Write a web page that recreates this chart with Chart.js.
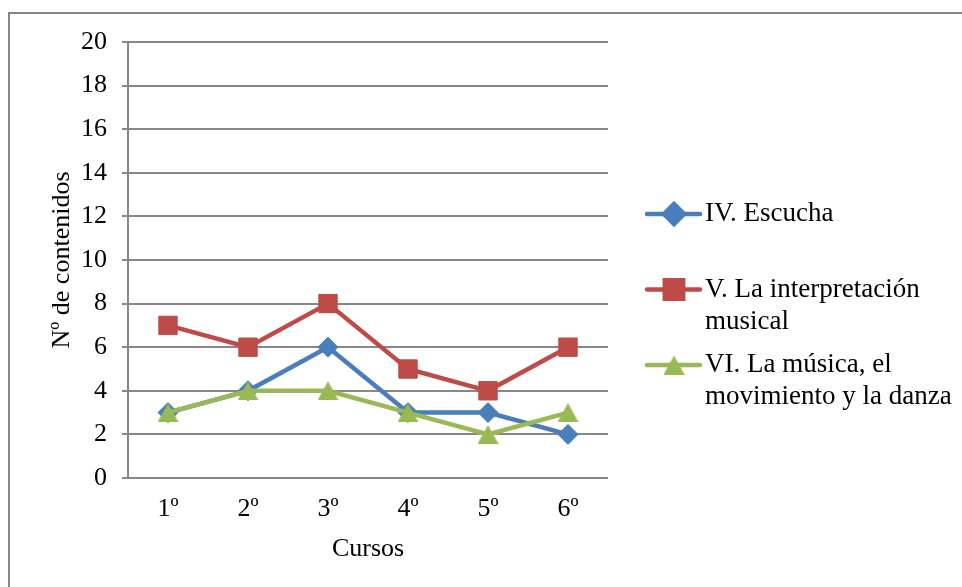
<!DOCTYPE html>
<html>
<head>
<meta charset="utf-8">
<title>Contenidos por curso</title>
<script src="https://cdn.jsdelivr.net/npm/chart.js@4.4.1/dist/chart.umd.min.js"></script>
<style>
  html, body { margin: 0; padding: 0; background: #fff; overflow: hidden; }
  #frame { position: absolute; left: 8px; top: 12px; width: 1000px; height: 1000px; border: 2px solid #868686; }
  #chart { position: absolute; left: 0; top: 0; }
</style>
</head>
<body>
<div id="frame"></div>
<canvas id="chart" width="962" height="587"></canvas>
<script>
// Categories and series
const cursos = ['1º', '2º', '3º', '4º', '5º', '6º'];
const escucha = [3, 4, 6, 3, 3, 2];
const interpretacion = [7, 6, 8, 5, 4, 6];
const movimiento = [3, 4, 4, 3, 2, 3];
const seriesNames = [
    'IV. Escucha',
    'V. La interpretación musical',
    'VI. La música, el movimiento y la danza'
];
const yMin = 0, yMax = 20, yStep = 2;

const FONT_FAMILY = '"Liberation Serif", "Times New Roman", serif';
const GRID_COLOR = '#878787';

// Triangle marker centred on its bounding box (the built-in one sits on its circumcentre)
function triangleMarker(color, w, h) {
    const c = document.createElement('canvas');
    c.width = w;
    c.height = h;
    const g = c.getContext('2d');
    g.fillStyle = color;
    g.beginPath();
    g.moveTo(w / 2, 0);
    g.lineTo(w, h);
    g.lineTo(0, h);
    g.closePath();
    g.fill();
    return c;
}

// Split a label into lines that fit maxWidth
function wrapText(ctx, text, maxWidth) {
    const words = text.split(' ');
    const lines = [];
    let line = '';
    words.forEach(word => {
        const test = line ? line + ' ' + word : word;
        if (line && ctx.measureText(test).width > maxWidth) {
            lines.push(line);
            line = word;
        } else {
            line = test;
        }
    });
    if (line) lines.push(line);
    return lines;
}

// Legend on the right, with wrapped text
const sideLegend = {
    id: 'sideLegend',
    afterDraw(chart) {
        const ctx = chart.ctx;
        ctx.save();
        ctx.font = '27px ' + FONT_FAMILY;
        ctx.textBaseline = 'middle';
        ctx.textAlign = 'left';
        // legend keeps the series order, not the drawing order
        const items = chart.data.datasets.slice().sort((a, b) => a.legendIndex - b.legendIndex);
        items.forEach((ds, i) => {
            const y = 214 + i * 75.5;
            ctx.strokeStyle = ds.borderColor;
            ctx.lineWidth = ds.borderWidth;
            ctx.lineCap = 'round';
            ctx.beginPath();
            ctx.moveTo(647, y);
            ctx.lineTo(700, y);
            ctx.stroke();

            ctx.fillStyle = ds.backgroundColor;
            ctx.strokeStyle = ds.borderColor;
            Chart.helpers.drawPoint(ctx, {
                pointStyle: ds.pointStyle,
                radius: ds.pointRadius,
                rotation: 0,
                borderWidth: 1
            }, 674, y);

            ctx.fillStyle = '#000';
            wrapText(ctx, ds.label, 255).forEach((line, k) => {
                ctx.fillText(line, 705, y + k * 32);
            });
        });
        ctx.restore();
    }
};

function makeSeries(label, data, color, style, radius, legendIndex, order) {
    return {
        label: label,
        data: data,
        borderColor: color,
        backgroundColor: color,
        borderWidth: 4.5,
        pointStyle: style,
        pointRadius: radius,
        pointBorderWidth: 1,
        pointBorderColor: color,
        pointBackgroundColor: color,
        tension: 0,
        fill: false,
        legendIndex: legendIndex,
        order: order
    };
}

const ctx = document.getElementById('chart').getContext('2d');
const chart = new Chart(ctx, {
    type: 'line',
    data: {
        labels: cursos,
        datasets: [
            makeSeries(seriesNames[0], escucha, '#4A7EBB', 'rectRot', 10, 0, 2),
            makeSeries(seriesNames[1], interpretacion, '#BE4B48', 'rect', 13, 1, 1),
            makeSeries(seriesNames[2], movimiento, '#98B954', triangleMarker('#98B954', 21, 19), 11, 2, 0)
        ]
    },
    options: {
        responsive: false,
        animation: false,
        devicePixelRatio: 1,
        layout: {
            padding: { left: 0, top: 42, right: 354, bottom: 0 }
        },
        plugins: {
            legend: { display: false },
            tooltip: { enabled: false }
        },
        scales: {
            x: {
                offset: true,
                grid: { display: false, drawTicks: false },
                border: { display: false },
                ticks: {
                    color: '#000',
                    padding: 16,
                    font: { family: FONT_FAMILY, size: 26 }
                },
                title: {
                    display: true,
                    text: 'Cursos',
                    color: '#000',
                    font: { family: FONT_FAMILY, size: 26 },
                    padding: { top: 0, bottom: 22 }
                },
                afterFit: function(scale) { scale.height = 109; }
            },
            y: {
                min: yMin,
                max: yMax,
                grid: {
                    color: GRID_COLOR,
                    lineWidth: 2,
                    tickLength: 6,
                    drawTicks: true
                },
                border: { display: true, color: GRID_COLOR, width: 2 },
                ticks: {
                    stepSize: yStep,
                    color: '#000',
                    padding: 15,
                    font: { family: FONT_FAMILY, size: 26 }
                },
                title: {
                    display: true,
                    text: 'Nº de contenidos',
                    color: '#000',
                    font: { family: FONT_FAMILY, size: 26 },
                    padding: { top: 47, bottom: 0 }
                },
                afterFit: function(scale) { scale.width = 128; }
            }
        }
    },
    plugins: [sideLegend]
});
</script>
</body>
</html>
